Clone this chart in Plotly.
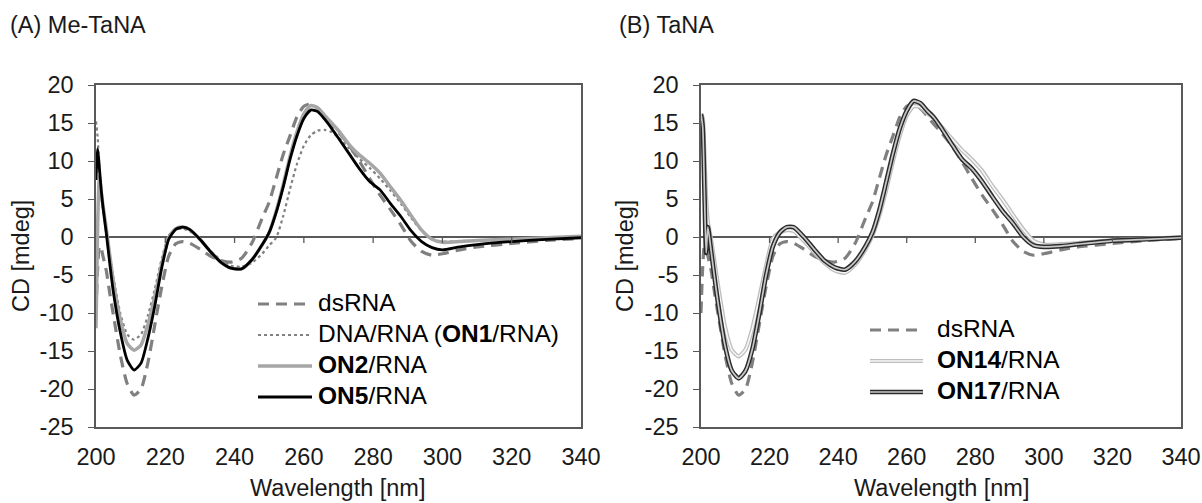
import plotly.graph_objects as go

# ---------------- data ----------------
wavelength = [200, 200.5, 201, 201.5, 202, 203, 204, 205, 207, 209, 211, 213, 215, 217, 219,
              221, 223, 225, 227, 230, 233, 236, 239, 242, 245, 248, 250, 252, 254, 256, 258,
              260, 262, 264, 266, 268, 270, 273, 276, 279, 282, 285, 288, 291, 294, 297, 300,
              305, 310, 320, 330, 340]

dsRNA = [-10.0, -4.0, -1.2, -1.5, -2.5, -4.5, -7.5, -10.2, -15.5, -19.3, -20.8, -20.0, -16.5,
         -11.5, -6.5, -2.5, -0.9, -0.6, -0.8, -1.6, -2.5, -3.1, -3.3, -2.8, -0.8, 2.5, 4.6,
         7.7, 10.8, 13.3, 15.8, 17.2, 17.5, 16.9, 15.9, 14.8, 13.8, 12.1, 10.0, 7.7, 5.5, 3.6,
         1.6, -0.6, -1.9, -2.4, -2.2, -1.7, -1.3, -0.85, -0.45, -0.2]

on1_rna = [15.2, 13.0, 8.5, 5.5, 3.5, 0.5, -2.5, -5.3, -10.0, -12.8, -13.5, -12.8, -10.3,
           -6.8, -2.8, 0.2, 1.0, 1.1, 0.8, -0.4, -1.8, -3.0, -3.8, -3.9, -3.4, -2.2, -1.1,
           -0.1, 2.7, 6.3, 9.6, 12.0, 13.4, 14.0, 14.1, 13.8, 13.1, 11.7, 10.3, 9.1, 7.7, 6.1,
           4.4, 2.5, 0.8, -0.3, -0.6, -0.55, -0.45, -0.3, -0.15, 0.0]

on2_rna = [-12.0, 2.0, 8.0, 6.0, 4.2, 1.0, -2.5, -5.8, -10.8, -14.0, -14.9, -14.2, -11.5,
           -7.8, -3.5, -0.1, 1.1, 1.3, 1.0, -0.3, -1.9, -3.3, -4.1, -4.2, -3.0, -1.0, 0.6,
           3.4, 6.8, 10.6, 13.8, 16.2, 17.3, 17.0, 16.0, 15.0, 14.0, 12.2, 10.8, 9.7, 8.4, 6.6,
           4.8, 2.8, 0.9, -0.3, -0.7, -0.6, -0.45, -0.3, -0.1, 0.1]

on5_rna = [7.5, 11.6, 9.0, 6.2, 4.0, 0.4, -3.6, -7.2, -12.5, -16.2, -17.5, -16.6, -13.3,
           -9.0, -4.0, -0.3, 1.0, 1.3, 1.0, -0.3, -1.9, -3.3, -4.1, -4.2, -3.0, -1.0, 0.6,
           3.2, 6.5, 10.2, 13.3, 15.6, 16.7, 16.5, 15.5, 14.3, 13.0, 11.0, 9.0, 7.3, 6.2, 4.4,
           2.7, 0.8, -0.6, -1.4, -1.7, -1.3, -1.0, -0.6, -0.3, -0.1]

on14_rna = [12.0, 15.8, 11.0, 5.0, 2.0, -0.5, -3.5, -6.5, -11.8, -14.9, -15.7, -14.8, -12.0,
            -8.0, -3.8, -0.2, 0.6, 0.9, 0.8, -0.5, -2.0, -3.4, -4.4, -4.7, -3.6, -1.6, 0.2,
            2.8, 6.2, 10.0, 13.4, 16.0, 17.2, 17.1, 16.3, 15.6, 14.6, 13.0, 11.5, 10.2, 8.7,
            6.7, 4.9, 2.9, 1.0, -0.5, -1.0, -0.95, -0.8, -0.45, -0.25, -0.05]

on17_rna = [16.2, 14.5, 6.0, -2.1, 1.3, -2.0, -5.5, -8.8, -14.3, -17.6, -18.6, -17.6, -14.7,
            -10.1, -5.0, -1.2, 0.6, 1.3, 1.3, 0.0, -1.6, -3.1, -4.0, -4.3, -3.2, -1.2, 0.6,
            3.5, 7.2, 11.0, 14.3, 16.6, 17.9, 17.6, 16.6, 15.7, 14.4, 12.3, 10.3, 9.0, 7.3,
            5.3, 3.4, 1.8, 0.0, -1.1, -1.3, -1.2, -0.95, -0.5, -0.3, -0.1]

x_ticks = [200, 220, 240, 260, 280, 300, 320, 340]
y_ticks = [20, 15, 10, 5, 0, -5, -10, -15, -20, -25]

panel_titles = ["(A) Me-TaNA", "(B) TaNA"]
x_title = "Wavelength [nm]"
y_title = "CD [mdeg]"
names_a = ["dsRNA", "DNA/RNA (<b>ON1</b>/RNA)", "<b>ON2</b>/RNA", "<b>ON5</b>/RNA"]
names_b = ["dsRNA", "<b>ON14</b>/RNA", "<b>ON17</b>/RNA"]

# ---------------- styling ----------------
W, H = 1202, 503
FONT = "Liberation Sans, Arial, sans-serif"
FS = 23.5
LFS = 24.5
TXT = "#1a1a1a"
AX = "#595959"
sm = 0.6

def px_x(p):
    return p / W

def px_y(p):
    return 1 - p / H

# line styles: list of (color, width, dash) layers, drawn bottom to top
sty_ds = [("#808080", 3.2, "11px,7px")]
sty_on1 = [("#808080", 2.2, "dot")]
sty_on2 = [("#a6a6a6", 3.5, "solid")]
sty_on5 = [("#000000", 2.8, "solid")]
sty_on14 = [("#bdbdbd", 4.2, "solid"), ("#f7f7f7", 1.6, "solid")]
sty_on17 = [("#2b2b2b", 4.6, "solid"), ("#c8c8c8", 1.7, "solid")]

fig = go.Figure()

def add_series(y, name, styles, xa, ya):
    for color, width, dash in styles:
        fig.add_trace(go.Scatter(
            x=wavelength, y=y, mode="lines", name=name.replace("<b>", "").replace("</b>", ""),
            showlegend=False, hoverinfo="x+y+name",
            line=dict(color=color, width=width, dash=dash, shape="spline", smoothing=sm),
            xaxis=xa, yaxis=ya))

add_series(dsRNA, names_a[0], sty_ds, "x", "y")
add_series(on1_rna, names_a[1], sty_on1, "x", "y")
add_series(on2_rna, names_a[2], sty_on2, "x", "y")
add_series(on5_rna, names_a[3], sty_on5, "x", "y")

add_series(dsRNA, names_b[0], sty_ds, "x2", "y2")
add_series(on14_rna, names_b[1], sty_on14, "x2", "y2")
add_series(on17_rna, names_b[2], sty_on17, "x2", "y2")

ydom = [px_y(427), px_y(85)]
xdoms = [[px_x(96), px_x(581)], [px_x(701), px_x(1181)]]

def xaxis_cfg(dom, anchor):
    return dict(domain=dom, anchor=anchor, range=[200, 340], tickvals=x_ticks,
                ticktext=[str(t) for t in x_ticks], ticks="", showline=True, mirror=True,
                linecolor=AX, linewidth=1.5, showgrid=False, zeroline=False,
                tickfont=dict(family=FONT, size=FS, color=TXT), ticklabelstandoff=8,
                automargin=False, fixedrange=True)

def yaxis_cfg(anchor):
    return dict(domain=ydom, anchor=anchor, range=[-25, 20], tickvals=y_ticks,
                ticktext=[str(t) for t in y_ticks], ticks="outside", ticklen=6, tickwidth=1.3,
                tickcolor=AX, showline=True, mirror=True, linecolor=AX, linewidth=1.5,
                showgrid=False, zeroline=True, zerolinecolor=AX, zerolinewidth=1.5,
                tickfont=dict(family=FONT, size=FS, color=TXT), ticklabelstandoff=10,
                automargin=False, fixedrange=True)

shapes = []
# minor tick marks hanging from the zero line (Excel style axis crossing at 0)
for xr, yr in (("x", "y"), ("x2", "y2")):
    for t in x_ticks[1:-1]:
        shapes.append(dict(type="line", xref=xr, yref=yr, x0=t, x1=t, ysizemode="pixel",
                           yanchor=0, y0=0, y1=-6, line=dict(color=AX, width=1.3)))

annotations = [
    dict(text=panel_titles[0], x=px_x(8), y=px_y(25), xanchor="left"),
    dict(text=panel_titles[1], x=px_x(617), y=px_y(25), xanchor="left"),
    dict(text=x_title, x=px_x(338), y=px_y(488), xanchor="center"),
    dict(text=x_title, x=px_x(941), y=px_y(488), xanchor="center"),
    dict(text=y_title, x=px_x(21), y=px_y(256), xanchor="center", textangle=-90),
    dict(text=y_title, x=px_x(625), y=px_y(256), xanchor="center", textangle=-90),
]
for a in annotations:
    a.update(xref="paper", yref="paper", yanchor="middle", showarrow=False,
             font=dict(family=FONT, size=FS, color=TXT))

# legends (key lines + real text), placed in page coordinates
def add_legend(names, styles, x0, x1, xt, ycenters):
    for name, st, yc in zip(names, styles, ycenters):
        for color, width, dash in st:
            shapes.append(dict(type="line", xref="paper", yref="paper",
                               x0=px_x(x0), x1=px_x(x1), y0=px_y(yc + 2), y1=px_y(yc + 2),
                               line=dict(color=color, width=width, dash=dash)))
        annotations.append(dict(text=name, x=px_x(xt), y=px_y(yc), xref="paper", yref="paper",
                                xanchor="left", yanchor="middle", showarrow=False,
                                font=dict(family=FONT, size=LFS, color="#000000")))

add_legend(names_a, [sty_ds, sty_on1, sty_on2, sty_on5], 258, 312, 316, [302, 333, 364, 395])
add_legend(names_b, [sty_ds, sty_on14, sty_on17], 870, 923, 935, [328, 359, 390])

fig.update_layout(
    width=W, height=H, template="none",
    paper_bgcolor="white", plot_bgcolor="white",
    margin=dict(l=0, r=0, t=0, b=0),
    showlegend=False,
    xaxis=xaxis_cfg(xdoms[0], "y"), yaxis=yaxis_cfg("x"),
    xaxis2=xaxis_cfg(xdoms[1], "y2"), yaxis2=yaxis_cfg("x2"),
    shapes=shapes, annotations=annotations,
)

# remove the default 8px page margin so the 1202x503 figure fills the window exactly
fig.write_html("out.html",
               config={"displayModeBar": False},
               post_script="document.body.style.margin='0px';document.body.style.overflow='hidden';")
